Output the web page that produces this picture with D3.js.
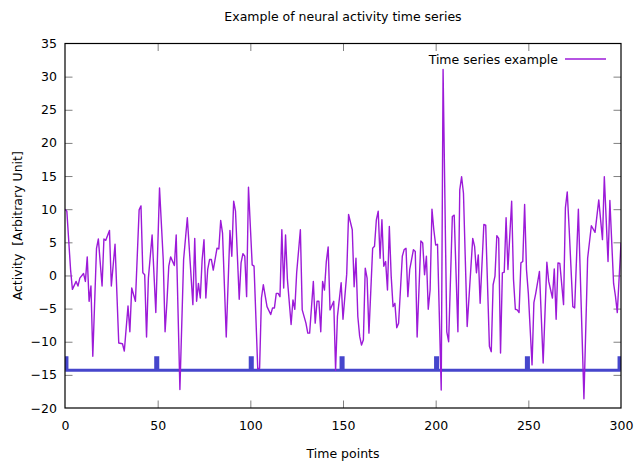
<!DOCTYPE html>
<html><head><meta charset="utf-8">
<script src="https://cdn.jsdelivr.net/npm/d3@7"></script>
<style>
html,body{margin:0;padding:0;background:#fff;}
text{font-family:"DejaVu Sans",sans-serif;}
</style></head>
<body><svg id="c" width="634" height="464"></svg>
<script>
const title = "Example of neural activity time series";
const xLabel = "Time points";
const yLabel = "Activity  [Arbitrary Unit]";
const legendLabel = "Time series example";
const xTicks = [0, 50, 100, 150, 200, 250, 300];
const yTicks = [-20, -15, -10, -5, 0, 5, 10, 15, 20, 25, 30, 35];

const timePoints = [0,1,3,4,6,7,8,10,11,12,13,14,15,17,18,20,21,22,24,25,27,29,31,32,34,35,36,38,40,41,42,43,44,45,47,49,51,53,54,55,56,57,59,60,62,64,66,69,70,71,72,73,74,75,76,77,78,79,80,82,83,84,85,87,89,90,91,92,94,95,96,97,98,99,101,102,104,105,106,107,109,111,112,113,114,115,116,117,118,119,120,122,123,124,125,127,128,130,131,132,134,135,136,137,138,139,140,141,142,143,145,146,147,149,150,152,153,155,156,157,158,159,160,161,162,163,164,166,167,168,169,170,171,172,173,174,175,176,177,178,179,180,182,183,184,185,186,187,188,189,190,192,193,194,195,196,197,198,199,200,201,203,204,206,207,209,210,212,213,214,215,217,220,221,222,223,224,226,227,229,230,231,232,233,234,235,236,237,238,239,241,242,243,244,245,246,247,248,249,250,252,253,254,256,258,260,261,263,264,265,266,267,269,270,271,272,274,275,277,280,282,284,286,288,290,291,293,294,296,297,298,300];
const activity = [10.0,9.7,0.9,-2.1,-0.9,-1.6,-0.4,0.3,-0.9,2.8,-3.9,-1.6,-12.2,4.1,5.5,-1.6,5.5,5.3,6.8,-1.6,4.7,-10.2,-10.3,-11.4,-4.6,-8.5,-1.9,-3.9,9.9,10.5,0.4,0.1,-9.3,-0.4,6.1,-5.6,13.2,2.4,-8.5,-4.0,1.4,2.8,1.5,6.1,-17.2,2.4,8.7,-4.4,5.6,-3.9,-1.2,-3.4,2.4,5.4,-3.4,0.9,2.4,2.4,0.8,4.1,4.0,8.3,6.4,-9.3,6.8,2.9,11.2,9.7,-3.6,1.9,3.3,2.9,-3.2,13.3,1.6,1.4,-14.1,-14.0,-3.4,-1.4,-4.7,-5.9,-4.9,-4.9,-2.7,-2.7,-3.2,6.9,-1.9,6.1,-0.6,-7.4,-3.7,-5.1,0.4,6.9,-5.2,-7.2,-8.7,-8.7,-0.9,-7.2,-3.9,-3.9,-8.5,-0.9,-2.2,2.1,4.3,-5.2,-3.9,-14.3,-6.2,-1.1,-6.6,0.2,9.2,6.9,-1.7,2.6,-6.2,-9.2,-10.5,-9.7,1.1,-0.4,-8.7,4.1,4.4,8.4,9.7,2.6,8.4,1.4,2.1,-2.2,7.4,-0.1,-4.7,-4.2,-7.9,-7.2,2.9,3.9,4.1,-3.2,0.9,2.4,3.9,3.6,-9.3,5.2,4.9,0.1,2.9,-5.1,-2.2,10.0,6.9,4.6,4.7,-17.3,31.1,-8.5,-10.0,8.9,9.1,-8.5,12.9,14.9,12.4,-7.7,5.6,4.4,0.4,3.1,-4.2,7.7,7.6,-10.7,-11.5,-1.4,-0.1,6.0,5.6,-11.7,0.4,0.5,8.7,0.9,11.2,-0.6,-5.1,-5.2,-5.6,1.9,2.1,10.7,0.9,-2.7,-13.5,-4.1,-2.7,0.6,-13.2,2.0,-0.9,-3.4,1.0,-6.6,1.9,1.8,-4.4,10.2,12.6,7.2,-4.7,-4.9,10.0,-18.6,2.6,7.5,6.5,11.4,5.4,14.9,2.1,11.3,-1.2,-3.1,-5.6,4.9];

const stimOnsets = [0, 49, 100, 149, 200, 249, 299];
const stimDuration = 1;
const stimLevel = -12.45;
const stimBaseline = -14.3;

const W = 634, H = 464;
const m = {left: 65, right: 13, top: 43.5, bottom: 56};
const svg = d3.select("#c");
const x = d3.scaleLinear().domain([0, 300]).range([m.left, W - m.right]);
const y = d3.scaleLinear().domain([-20, 35]).range([H - m.bottom, m.top]);

svg.append("defs").append("clipPath").attr("id","clip")
  .append("rect").attr("x", x(0)).attr("y", y(35)).attr("width", x(300)-x(0)).attr("height", y(-20)-y(35));

const tickLen = 7.5;
const tickColor = "#808080";
const gx = svg.append("g").attr("transform", `translate(0,${y(-20)})`)
  .call(d3.axisBottom(x).tickValues(xTicks).tickSize(-tickLen).tickPadding(13).tickFormat(d3.format("d")));
const gxt = svg.append("g").attr("transform", `translate(0,${y(35)})`)
  .call(d3.axisTop(x).tickValues(xTicks).tickSize(-tickLen).tickFormat(""));
const gy = svg.append("g").attr("transform", `translate(${x(0)},0)`)
  .call(d3.axisLeft(y).tickValues(yTicks).tickSize(-tickLen).tickPadding(8).tickFormat(d3.format("d")));
const gyr = svg.append("g").attr("transform", `translate(${x(300)},0)`)
  .call(d3.axisRight(y).tickValues(yTicks).tickSize(-tickLen).tickFormat(""));
[gx, gxt, gy, gyr].forEach(g => {
  g.select(".domain").remove();
  g.selectAll(".tick line").attr("stroke", tickColor).attr("stroke-width", 1);
  g.selectAll(".tick text").attr("fill", "#000").style("font-size", "12.5px").style("font-family", '"DejaVu Sans", sans-serif');
});
gx.selectAll(".tick").filter(d => d === 0 || d === 300).select("line").remove();
gxt.selectAll(".tick").filter(d => d === 0 || d === 300).select("line").remove();
gy.selectAll(".tick").filter(d => d === -20 || d === 35).select("line").remove();
gyr.selectAll(".tick").filter(d => d === -20 || d === 35).select("line").remove();

// stimulus step series
const stimPts = [[0, stimBaseline]];
stimOnsets.forEach(t => {
  stimPts.push([t, stimBaseline], [t, stimLevel], [t + stimDuration, stimLevel], [t + stimDuration, stimBaseline]);
});
stimPts.push([300, stimBaseline]);
svg.append("path").attr("clip-path", "url(#clip)")
  .datum(stimPts)
  .attr("d", d3.line().x(d => x(d[0])).y(d => y(d[1])))
  .attr("fill", "none").attr("stroke", "#4646cc").attr("stroke-width", 3.2).attr("stroke-linejoin", "miter");

// activity line
const series = timePoints.map((t, i) => [t, activity[i]]);
svg.append("path").attr("clip-path", "url(#clip)")
  .datum(series)
  .attr("d", d3.line().x(d => x(d[0])).y(d => y(d[1])))
  .attr("fill", "none").attr("stroke", "#9c1ad8").attr("stroke-width", 1.4).attr("stroke-linejoin", "round");

// border
svg.append("rect").attr("x", x(0)).attr("y", y(35)).attr("width", x(300)-x(0)).attr("height", y(-20)-y(35))
  .attr("fill", "none").attr("stroke", "#000").attr("stroke-width", 1.2);

// legend
svg.append("text").attr("x", 558).attr("y", 63.5).attr("text-anchor", "end").style("font-size", "12.5px").text(legendLabel);
svg.append("line").attr("x1", 565).attr("x2", 606).attr("y1", 59).attr("y2", 59).attr("stroke", "#9c1ad8").attr("stroke-width", 1.4);

// titles
svg.append("text").attr("x", (x(0)+x(300))/2).attr("y", 21).attr("text-anchor", "middle").style("font-size", "12.5px").text(title);
svg.append("text").attr("x", (x(0)+x(300))/2).attr("y", 458).attr("text-anchor", "middle").style("font-size", "12.5px").text(xLabel);
svg.append("text").attr("transform", `translate(22,${(y(35)+y(-20))/2}) rotate(-90)`).attr("text-anchor", "middle")
  .style("font-size", "12.5px").style("white-space", "pre").text(yLabel);
</script></body></html>
